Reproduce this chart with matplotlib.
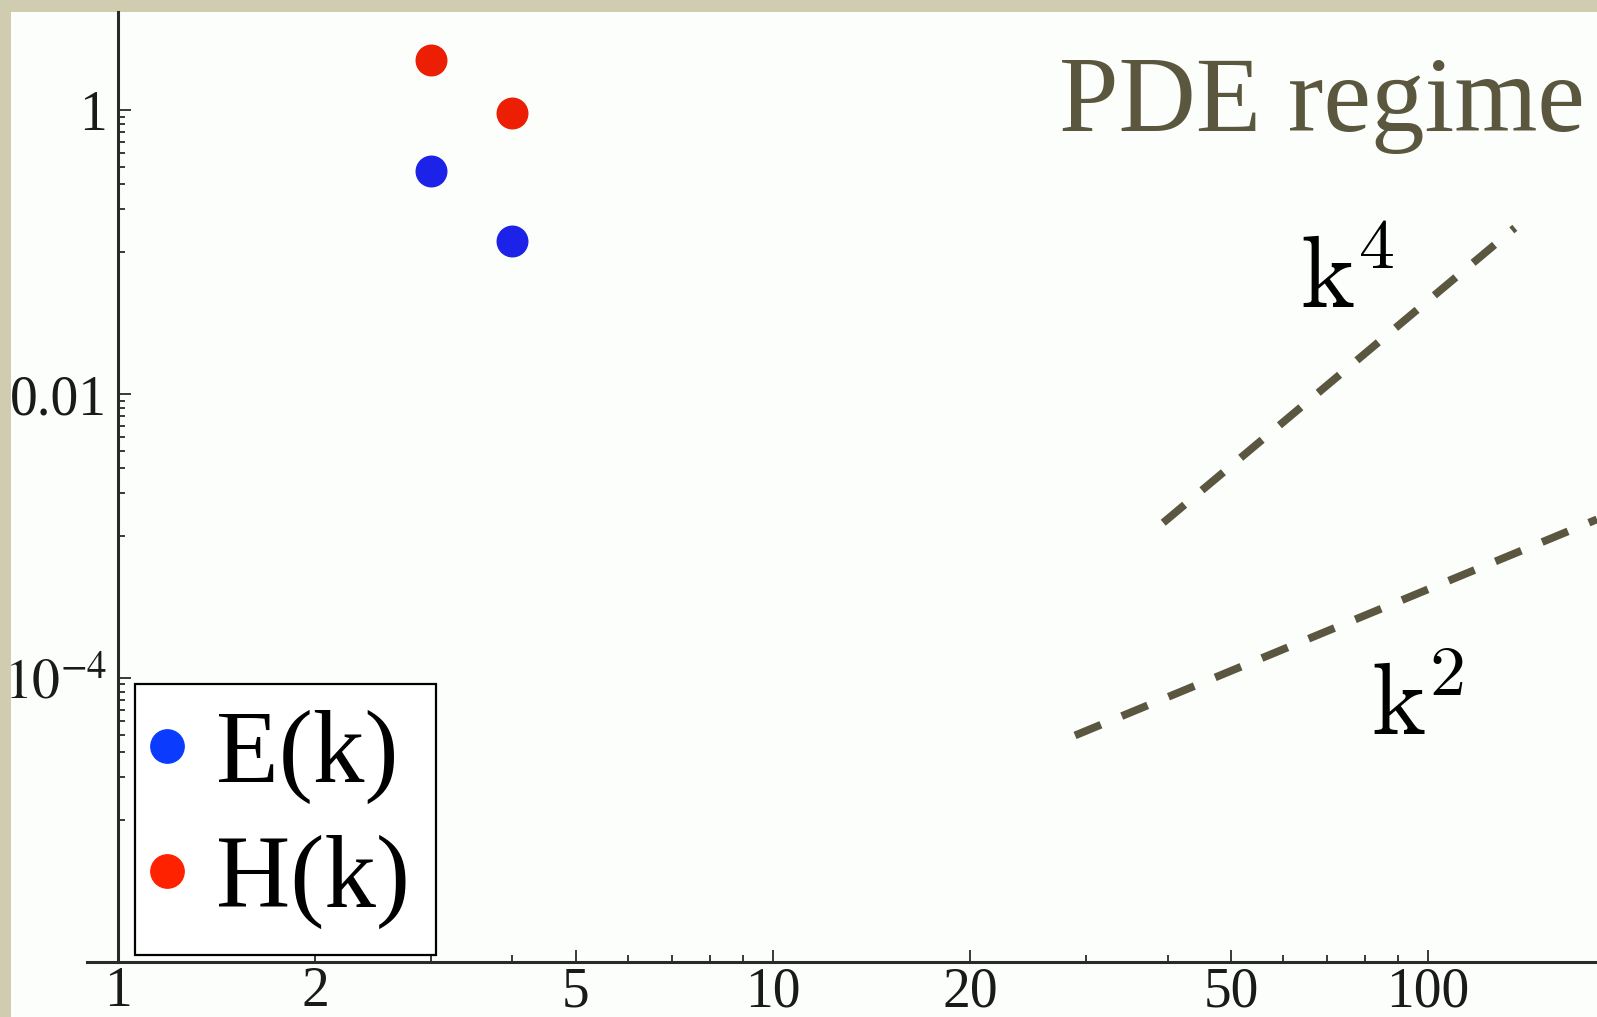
import matplotlib.pyplot as plt
from matplotlib.lines import Line2D
from matplotlib.patches import Rectangle
from matplotlib.ticker import FixedLocator, FixedFormatter, NullFormatter

W, H = 1597, 1017

# spectra at the lowest wavenumbers
k_vals = [3, 4]
E_vals = [0.374, 0.120]
H_vals = [2.25, 0.95]

# guide slopes (end points of the dashed segments)
k4_k = [39.4, 135.6]
k4_y = [0.00124, 0.148]
k2_k = [28.9, 181]
k2_y = [3.94e-5, 0.00131]

x_major = [1, 2, 5, 10, 20, 50, 100]
x_labels = ['1', '2', '5', '10', '20', '50', '100']
x_minor = [3, 4, 6, 7, 8, 9, 30, 40, 60, 70, 80, 90]
y_major = [1e-4, 1e-2, 1]
y_labels = ['$10^{-4}$', '0.01', '1']
y_minor = [j * 10.0 ** e for e in (-1, -3, -5) for j in range(2, 10)] + [0.1, 1e-3, 1e-5]

plt.rcParams['font.family'] = 'Liberation Serif'
plt.rcParams['mathtext.fontset'] = 'stix'

guide = '#5a5640'

fig = plt.figure(figsize=(W / 100, H / 100), dpi=100, facecolor='#d0ccb0')
# white slide panel
fig.patches.append(Rectangle((11 / W, 0), 1, 1 - 12 / H, transform=fig.transFigure,
                             facecolor='#fbfefb', edgecolor='none', zorder=-10))

ax = fig.add_axes([118 / W, 55 / H, 1 - 118 / W, 950 / H])
ax.set_facecolor('none')
ax.set_xscale('log')
ax.set_yscale('log')
ax.set_xlim(1, 181)
ax.set_ylim(1e-6, 4.9)

ax.plot(k_vals, E_vals, 'o', color='#1c22e8', markersize=22, zorder=3)
ax.plot(k_vals, H_vals, 'o', color='#ec1e04', markersize=22, zorder=3)

ax.plot(k4_k, k4_y, color=guide, lw=5.6, ls=(0, (3.6, 2.9)), solid_capstyle='butt')
ax.plot(k2_k, k2_y, color=guide, lw=5.6, ls=(0, (3.6, 2.9)), solid_capstyle='butt')

ax.text(63.8, 0.0403, r'$\mathrm{k}^4$', math_fontfamily='cm', fontsize=74, va='baseline')
ax.text(81.8, 3.97e-5, r'$\mathrm{k}^2$', math_fontfamily='cm', fontsize=74, va='baseline')
ax.text(27.3, 0.711, 'PDE regime', fontsize=77, color='#5b573e', va='baseline')

for side in ['top', 'right']:
    ax.spines[side].set_visible(False)
for side in ['left', 'bottom']:
    ax.spines[side].set_linewidth(2.2)
    ax.spines[side].set_color('#2a2a2a')
# x axis runs a little past the y axis
fig.add_artist(Line2D([87 / W, 118 / W], [55 / H, 55 / H], transform=fig.transFigure,
                      color='#2a2a2a', lw=2.2))

ax.xaxis.set_major_locator(FixedLocator(x_major))
ax.xaxis.set_major_formatter(FixedFormatter(x_labels))
ax.xaxis.set_minor_locator(FixedLocator(x_minor))
ax.xaxis.set_minor_formatter(NullFormatter())
ax.yaxis.set_major_locator(FixedLocator(y_major))
ax.yaxis.set_major_formatter(FixedFormatter(y_labels))
ax.yaxis.set_minor_locator(FixedLocator(y_minor))
ax.yaxis.set_minor_formatter(NullFormatter())

ax.tick_params(which='major', direction='in', length=9, width=1.3, color='#2a2a2a',
               labelsize=40, labelcolor='#1a1a1a')
ax.tick_params(which='minor', direction='in', length=5, width=1.3, color='#2a2a2a')
ax.tick_params(axis='x', pad=3)
ax.tick_params(axis='y', pad=8)

handles = [Line2D([], [], marker='o', ls='none', color='#0b3bfd', markersize=24),
           Line2D([], [], marker='o', ls='none', color='#ff2200', markersize=24)]
leg = ax.legend(handles, ['E(k)', 'H(k)'], loc='lower left',
                bbox_to_anchor=(135 / W, 62 / H), bbox_transform=fig.transFigure,
                prop={'family': 'Liberation Serif', 'size': 74},
                fancybox=False, edgecolor='black', framealpha=1, borderaxespad=0,
                handlelength=0.12, handletextpad=0.42, borderpad=0.25, labelspacing=0.3)
leg.get_frame().set_linewidth(1.6)

fig.savefig('out.png', dpi=100, facecolor=fig.get_facecolor())
